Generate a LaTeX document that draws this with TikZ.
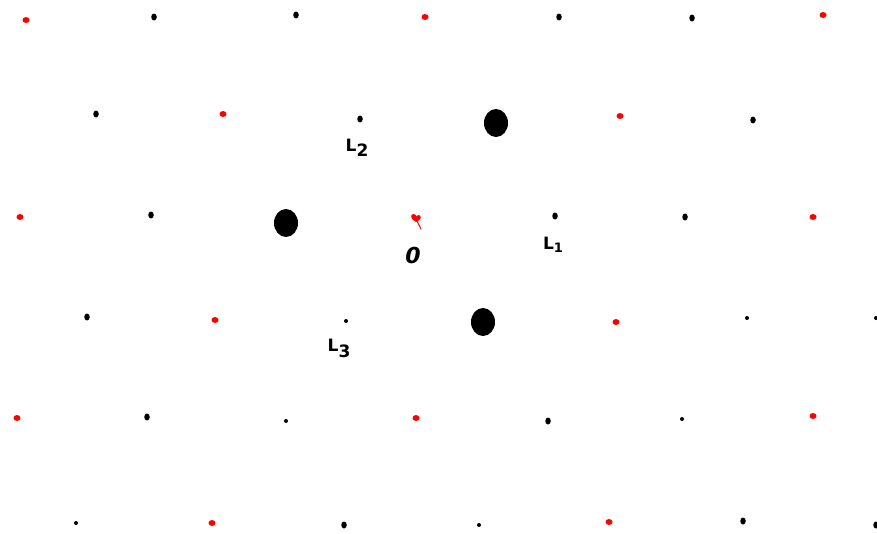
\documentclass[tikz,border=0pt]{standalone}
\usepackage{fontspec}
\setsansfont{DejaVu Sans}
\usetikzlibrary{shapes.geometric}
\begin{document}
\begin{tikzpicture}[x=1pt,y=-1pt,
  bdot/.style={ellipse,fill=black,inner sep=0pt,minimum width=5.5pt,minimum height=7pt},
  rdot/.style={ellipse,fill=red,inner sep=0pt,minimum width=7pt,minimum height=6pt},
  sdot/.style={ellipse,fill=black,inner sep=0pt,minimum width=4pt,minimum height=4pt},
  big/.style={ellipse,fill=black,inner sep=0pt,minimum width=24pt,minimum height=28pt},
  lab/.style={font=\sffamily\bfseries\fontsize{17}{17}\selectfont,inner sep=0pt}]
\useasboundingbox (0,0) rectangle (877,533);
% row 1
\node[rdot] (r11) at (26,20) {};
\node[bdot] (r12) at (154,17) {};
\node[bdot] (r13) at (296,15) {};
\node[rdot] (r14) at (425,17) {};
\node[bdot] (r15) at (559,17) {};
\node[bdot] (r16) at (692,18) {};
\node[rdot] (r17) at (823,15) {};
% row 2
\node[bdot] (r21) at (96,114) {};
\node[rdot] (r22) at (223,114) {};
\node[bdot] (r23) at (360,119) {};
\node[big] (r24) at (496,123) {};
\node[rdot] (r25) at (620,116) {};
\node[bdot] (r26) at (753,120) {};
% row 3
\node[rdot] (r31) at (20,217) {};
\node[bdot] (r32) at (151,215) {};
\node[big] (r33) at (286,223) {};
\node[bdot] (r35) at (555,216) {};
\node[bdot] (r36) at (685,217) {};
\node[rdot] (r37) at (813,217) {};
% origin heart
\coordinate (o) at (416,219);
\fill[red] (o) ++(0,3) .. controls (410,219) and (410,214) .. (413.5,214)
  .. controls (415.5,214) and (416,215.5) .. (416.5,216.5)
  .. controls (417,215) and (419,214.5) .. (420,215.5)
  .. controls (422,218) and (420,220) .. (416,222) -- cycle;
\draw[red,line width=1pt] (417,221) -- (421,229);
% row 4
\node[bdot] (r41) at (87,317) {};
\node[rdot] (r42) at (215,320) {};
\node[sdot] (r43) at (346,321) {};
\node[big] (r44) at (483,322) {};
\node[rdot] (r45) at (616,322) {};
\node[sdot] (r46) at (747,318) {};
\node[sdot] (r47) at (876,318) {};
% row 5
\node[rdot] (r51) at (17,418) {};
\node[bdot] (r52) at (147,417) {};
\node[sdot] (r53) at (286,421) {};
\node[rdot] (r54) at (416,418) {};
\node[bdot] (r55) at (548,421) {};
\node[sdot] (r56) at (682,419) {};
\node[rdot] (r57) at (813,416) {};
% row 6
\node[sdot] (r61) at (76,523) {};
\node[rdot] (r62) at (212,523) {};
\node[bdot] (r63) at (344,525) {};
\node[sdot] (r64) at (479,525) {};
\node[rdot] (r65) at (609,522) {};
\node[bdot] (r66) at (743,521) {};
\node[bdot] (r67) at (876,525) {};
% labels
\node[lab] (L2) at (357,148) {L\raisebox{-5pt}{2}};
\node[lab] (O) at (413,255) {\fontsize{22}{22}\selectfont\itshape 0};
\node[lab] (L1) at (553,245) {L\raisebox{-3pt}{\fontsize{13}{13}\selectfont 1}};
\node[lab] (L3) at (339,348) {L\raisebox{-6pt}{3}};
\end{tikzpicture}
\end{document}
